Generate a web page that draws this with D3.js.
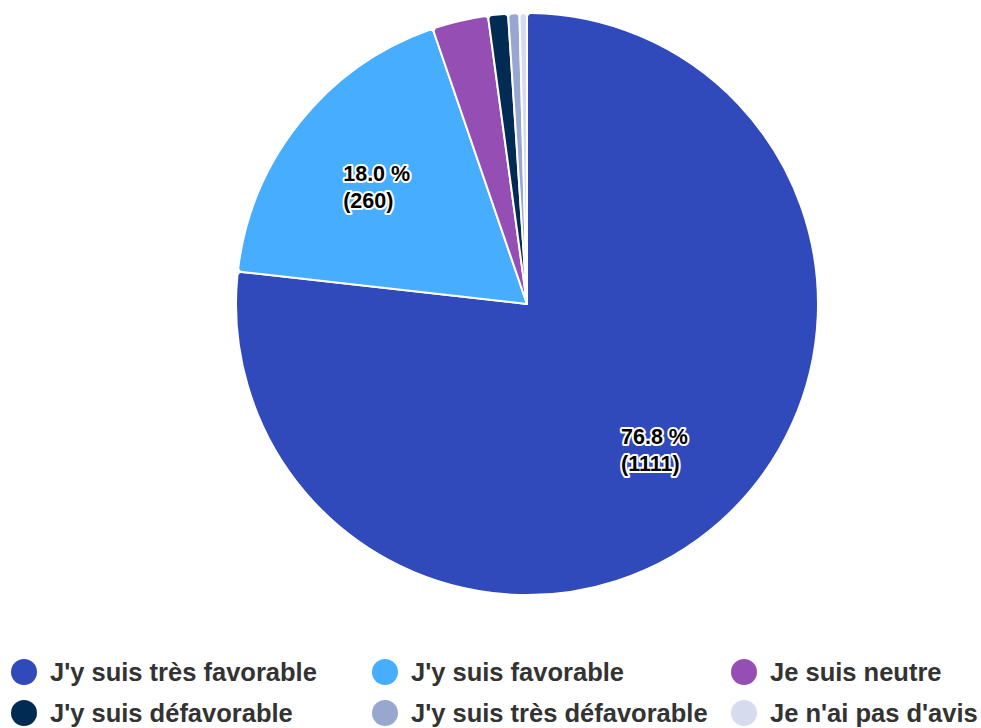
<!DOCTYPE html>
<html>
<head>
<meta charset="utf-8">
<script src="https://cdn.jsdelivr.net/npm/d3@7"></script>
<style>
  body { margin: 0; background: #fff; }
  svg { display: block; font-family: "Liberation Sans", Arial, sans-serif; }
</style>
</head>
<body>
<svg id="chart" width="981" height="728"></svg>
<script>
// data
var labels = ["J'y suis très favorable", "J'y suis favorable", "Je suis neutre",
              "J'y suis défavorable", "J'y suis très défavorable", "Je n'ai pas d'avis"];
var counts = [1111, 260, 45, 16, 9, 6];
var colors = ["#304abb", "#46adff", "#954fb4", "#022b54", "#97a7cf", "#d6dcee"];

var svg = d3.select("#chart");
var cx = 527, cy = 304, radius = 291;

var total = d3.sum(counts);
var pie = d3.pie().sort(null).value(function(d) { return d; });
var arcs = pie(counts);

var arc = d3.arc()
  .innerRadius(0)
  .outerRadius(radius)
  .cornerRadius(4);

var g = svg.append("g")
  .attr("transform", "translate(" + cx + "," + cy + ")");

g.selectAll("path")
  .data(arcs)
  .enter()
  .append("path")
    .attr("d", arc)
    .attr("fill", function(d, i) { return colors[i]; })
    .attr("stroke", "#fff")
    .attr("stroke-width", 2)
    .attr("stroke-linejoin", "round");

// labels for big slices only
var labelArc = d3.arc().innerRadius(radius * 0.66).outerRadius(radius * 0.66);

arcs.forEach(function(d, i) {
  var pct = d.value / total * 100;
  if (pct < 10) return;
  var c = labelArc.centroid(d);
  var t = g.append("text")
    .attr("transform", "translate(" + c[0] + "," + c[1] + ")")
    .style("font-size", "21.5px")
    .style("font-weight", "bold")
    .attr("fill", "#000")
    .attr("stroke", "#fff")
    .attr("stroke-width", 4)
    .attr("stroke-linejoin", "round")
    .attr("paint-order", "stroke");
  t.append("tspan").attr("x", -34).attr("y", -3).text(pct.toFixed(1) + " %");
  t.append("tspan").attr("x", -34).attr("y", 24).text("(" + d.value + ")");
});

// legend
var colX = [24, 385, 744], rowY = [672, 713];
var legend = svg.append("g");
labels.forEach(function(l, i) {
  var x = colX[i % 3], y = rowY[Math.floor(i / 3)];
  legend.append("circle")
    .attr("cx", x).attr("cy", y).attr("r", 13)
    .attr("fill", colors[i]);
  legend.append("text")
    .attr("x", x + 26).attr("y", y + 9)
    .style("font-size", "25.5px")
    .style("font-weight", "bold")
    .attr("fill", "#333")
    .text(l);
});
</script>
</body>
</html>
